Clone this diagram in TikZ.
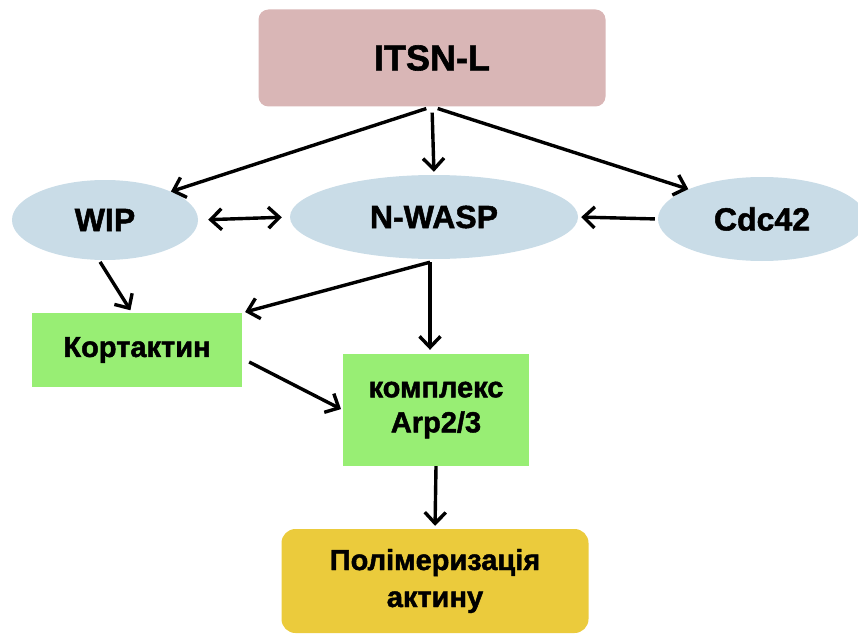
\documentclass[tikz,border=0pt]{standalone}
\usepackage{fontspec}
\setmainfont{Liberation Sans}[BoldFeatures={FakeBold=1.6}]
\usetikzlibrary{shapes.geometric,arrows.meta}
\definecolor{itsnpink}{HTML}{D9B6B6}
\definecolor{ovalblue}{HTML}{C9DCE7}
\definecolor{boxgreen}{HTML}{98EE74}
\definecolor{polyellow}{HTML}{EBCB3C}
\begin{document}
\begin{tikzpicture}[x=1pt,y=-1pt,
  oval/.style={ellipse,fill=ovalblue,inner sep=0pt,font=\fontsize{32}{36}\selectfont\bfseries},
  greenbox/.style={rectangle,fill=boxgreen,inner sep=0pt,align=center,font=\fontsize{29}{35}\selectfont\bfseries},
  arr/.style={-{Straight Barb[length=11pt,width=21pt]},line width=3.4pt}]
\useasboundingbox (0,0) rectangle (858,639);
% top
\node[fill=itsnpink,rounded corners=10pt,minimum width=347pt,minimum height=97pt,font=\fontsize{36}{40}\selectfont\bfseries] (itsn) at (432,58) {ITSN-L};
% middle row
\node[oval,minimum width=186pt,minimum height=80pt] (wip) at (105,220) {WIP};
\node[oval,minimum width=288pt,minimum height=84pt] (nwasp) at (434,217) {N-WASP};
\node[oval,minimum width=208pt,minimum height=84pt] (cdc) at (762,219) {Cdc42};
% boxes
\node[greenbox,minimum width=210pt,minimum height=74pt] (kort) at (137,350) {Кортактин};
\node[greenbox,minimum width=186pt,minimum height=112pt] (arp) at (436,410) {комплекс\\Arp2/3};
\node[fill=polyellow,rounded corners=14pt,minimum width=307pt,minimum height=104pt,align=center,font=\fontsize{29}{37}\selectfont\bfseries] (polym) at (435,581) {Полімеризація\\актину};
\coordinate (split) at ([shift={(-4pt,-3pt)}]nwasp.south);
% connectors
\draw[arr,shorten <=6pt] (itsn.south) -- (wip.north east);
\draw[arr,shorten <=6pt,shorten >=3pt] (itsn.south) -- (nwasp.north);
\draw[arr,shorten <=6pt] (itsn.south) -- (cdc.north west);
\draw[arr,{Straight Barb[length=11pt,width=21pt]}-{Straight Barb[length=11pt,width=21pt]},shorten <=10pt,shorten >=8pt] (wip.east) -- (nwasp.west);
\draw[arr,shorten <=3pt,shorten >=3pt] (cdc.west) -- (nwasp.east);
\draw[arr,shorten <=2pt,shorten >=3pt] ([xshift=-6pt]wip.south) -- ([xshift=-5pt]kort.north);
\draw[arr,shorten >=3pt] (split) -- (kort.north east);
\draw[arr,shorten >=4pt] (split) -- (split |- arp.north);
\draw[arr,shorten >=2pt] ([shift={(7pt,-12pt)}]kort.east) -- (arp.west);
\draw[arr,shorten >=3pt] (arp.south) -- (polym.north);
\end{tikzpicture}
\end{document}
